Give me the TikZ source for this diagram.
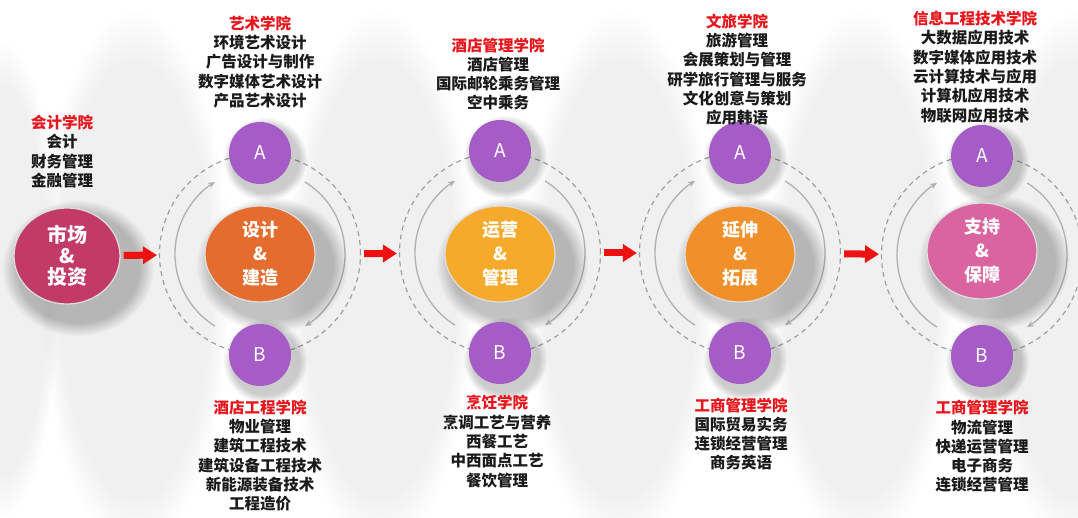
\documentclass[tikz,border=0pt]{standalone}
\usepackage{fontspec}
\newfontfamily\cjk{Noto Sans CJK SC}
\usetikzlibrary{shapes.geometric,arrows.meta,shadows,fadings}
\definecolor{mktcol}{HTML}{C23A66}
\definecolor{c1col}{HTML}{E46C2E}
\definecolor{c2col}{HTML}{F6AA2C}
\definecolor{c3col}{HTML}{F18F2A}
\definecolor{c4col}{HTML}{D9649F}
\definecolor{purp}{HTML}{A55CC6}
\definecolor{arrred}{HTML}{EE1111}
\definecolor{ttlred}{HTML}{E8141B}
\definecolor{txtblack}{HTML}{1A1A1A}
\definecolor{ringgray}{HTML}{9A9A9A}
\definecolor{arcgray}{HTML}{B0B0B0}
\begin{document}
\begin{tikzpicture}[x=1pt,y=-1pt,
  lbl/.style={align=center,font=\cjk\bfseries\fontsize{15.5}{19.3}\selectfont,text=txtblack,inner sep=0pt},
  core/.style={ellipse,minimum width=110pt,minimum height=96pt,inner sep=0pt,align=center,text=white,
    font=\cjk\bfseries\fontsize{18}{24}\selectfont,draw=gray!25,line width=1.2pt},
  ab/.style={circle,minimum size=62pt,inner sep=0pt,fill=purp,text=white,
    font=\cjk\fontsize{19}{19}\selectfont},
  ring/.style={circle,minimum size=201pt,inner sep=0pt,draw=ringgray,dash pattern=on 5pt off 4pt,line width=1.1pt},
  flow/.style={draw=arrred,line width=7pt,-{Triangle[length=14pt,width=17pt]},shorten <=3pt,shorten >=2pt},
  cyc/.style={draw=arcgray,line width=1.3pt,-{Stealth[length=7pt,width=6pt]}},
  haze/.style={fill=black,opacity=0.06,path fading=circle with fuzzy edge 20 percent},
  blob/.style={fill=black,opacity=0.24,path fading=circle with fuzzy edge 20 percent}
]
\useasboundingbox (0,0) rectangle (1078,518);
\fill[white] (0,0) rectangle (1078,518);

% background haze between and around groups
\foreach \x in {135,380,620,860,1078}{
  \fill[haze] (\x,280) ellipse (95 and 270);
}
\fill[haze] (0,280) ellipse (60 and 240);

% rings
\node[ring] (r1) at (260,254) {};
\node[ring] (r2) at (500,253) {};
\node[ring] (r3) at (740,253) {};
\node[ring] (r4) at (982,255) {};

% cycle arcs
\foreach \r in {r1,r2,r3,r4}{
  \draw[cyc] ([shift={(122:85)}]\r.center) arc[start angle=122,end angle=238,radius=85];
  \draw[cyc] ([shift={(-58:85)}]\r.center) arc[start angle=-58,end angle=58,radius=85];
}

% soft shadows of the ellipses and circles
\foreach \x/\y in {78/268,272/265,512/265,752/265,994/262}{
  \fill[blob] (\x,\y) ellipse (76 and 68);
}
\foreach \x/\y in {265/159,265/361,505/157,505/359,745/159,745/359,987/162,987/362}{
  \fill[blob,opacity=0.2] (\x,\y) circle (42);
}

% market node
\node[core,fill=mktcol,minimum width=106pt,minimum height=96pt,font=\cjk\bfseries\fontsize{20}{21}\selectfont] (m0) at (67,256) {市场\\\&\\投资};

% cores
\node[core,fill=c1col] (g1) at (260,254) {设计\\\&\\建造};
\node[core,fill=c2col] (g2) at (500,254) {运营\\\&\\管理};
\node[core,fill=c3col] (g3) at (740,254) {延伸\\\&\\拓展};
\node[core,fill=c4col] (g4) at (982,251) {支持\\\&\\保障};

% A/B circles
\node[ab] (a1) at (260,153) {A};
\node[ab] (b1) at (260,355) {B};
\node[ab] (a2) at (500,151) {A};
\node[ab] (b2) at (500,353) {B};
\node[ab] (a3) at (740,153) {A};
\node[ab] (b3) at (740,353) {B};
\node[ab] (a4) at (982,156) {A};
\node[ab] (b4) at (982,356) {B};

% flow arrows
\draw[flow] (m0) -- (r1);
\draw[flow] (r1) -- (r2);
\draw[flow] (r2) -- (r3);
\draw[flow] (r3) -- (r4);

% labels
\node[lbl] (t0) at (62,151.5) {\textcolor{ttlred}{会计学院}\\会计\\财务管理\\金融管理};
\node[lbl] (t1a) at (260,62) {\textcolor{ttlred}{艺术学院}\\环境艺术设计\\广告设计与制作\\数字媒体艺术设计\\产品艺术设计};
\node[lbl] (t1b) at (260,455.5) {\textcolor{ttlred}{酒店工程学院}\\物业管理\\建筑工程技术\\建筑设备工程技术\\新能源装备技术\\工程造价};
\node[lbl] (t2a) at (498,74) {\textcolor{ttlred}{酒店管理学院}\\酒店管理\\国际邮轮乘务管理\\空中乘务};
\node[lbl] (t2b) at (497,441.5) {\textcolor{ttlred}{烹饪学院}\\烹调工艺与营养\\西餐工艺\\中西面点工艺\\餐饮管理};
\node[lbl] (t3a) at (737,69.5) {\textcolor{ttlred}{文旅学院}\\旅游管理\\会展策划与管理\\研学旅行管理与服务\\文化创意与策划\\应用韩语};
\node[lbl] (t3b) at (741,434) {\textcolor{ttlred}{工商管理学院}\\国际贸易实务\\连锁经营管理\\商务英语};
\node[lbl] (t4a) at (975,67) {\textcolor{ttlred}{信息工程技术学院}\\大数据应用技术\\数字媒体应用技术\\云计算技术与应用\\计算机应用技术\\物联网应用技术};
\node[lbl] (t4b) at (982,446.5) {\textcolor{ttlred}{工商管理学院}\\物流管理\\快递运营管理\\电子商务\\连锁经营管理};
\end{tikzpicture}
\end{document}
